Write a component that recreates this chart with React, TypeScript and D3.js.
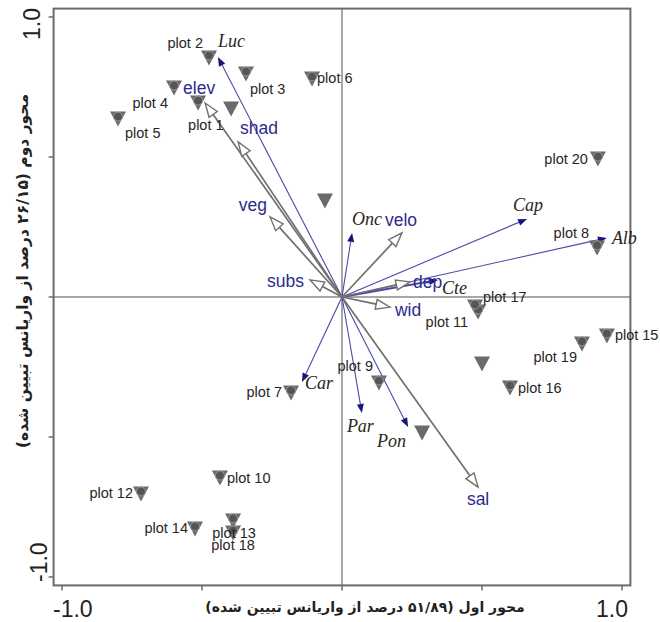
import React, { useEffect, useRef } from 'react';
import * as d3 from 'd3';

// sample plots (CCA site scores)
const plotNames = ['plot 1', 'plot 2', 'plot 3', 'plot 4', 'plot 5', 'plot 6', 'plot 7', 'plot 8', 'plot 9', 'plot 10',
  'plot 11', 'plot 12', 'plot 13', 'plot 14', 'plot 15', 'plot 16', 'plot 17', 'plot 18', 'plot 19', 'plot 20', '', '', '', ''];
const plotX = [-0.514, -0.475, -0.343, -0.6, -0.8, -0.107, -0.182, 0.911, 0.132, -0.436,
  0.486, -0.718, -0.389, -0.525, 0.946, 0.6, 0.475, -0.389, 0.857, 0.914, -0.396, -0.061, 0.5, 0.286];
const plotY = [0.696, 0.857, 0.8, 0.75, 0.639, 0.782, -0.339, 0.179, -0.304, -0.643,
  -0.05, -0.7, -0.796, -0.825, -0.136, -0.321, -0.032, -0.839, -0.164, 0.496, 0.675, 0.346, -0.236, -0.482];

// environmental variables
const envNames = ['elev', 'shad', 'veg', 'subs', 'velo', 'dep', 'wid', 'sal'];
const envX = [-0.489, -0.371, -0.257, -0.114, 0.214, 0.243, 0.171, 0.486];
const envY = [0.693, 0.554, 0.286, 0.061, 0.229, 0.054, -0.036, -0.679];

// species
const sppNames = ['Luc', 'Onc', 'Cap', 'Alb', 'Cte', 'Car', 'Par', 'Pon'];
const sppX = [-0.443, 0.036, 0.661, 0.946, 0.343, -0.143, 0.071, 0.236];
const sppY = [0.857, 0.229, 0.279, 0.211, 0.061, -0.304, -0.414, -0.464];

const ticks = [-1, -0.5, 0, 0.5, 1];
const xTitle = 'محور اول (۵۱/۸۹ درصد از واریانس تبیین شده)';
const yTitle = 'محور دوم (۲۶/۱۵ درصد از واریانس تبیین شده)';

// label placement: [dx, dy, anchor]
const plotLabelPos = {
  'plot 1': [-10, 28, 'start'], 'plot 2': [-6, -9, 'end'], 'plot 3': [4, 21, 'start'], 'plot 4': [-6, 21, 'end'],
  'plot 5': [7, 20, 'start'], 'plot 6': [5, 5, 'start'], 'plot 7': [-9, 5, 'end'], 'plot 8': [-8, -9, 'end'],
  'plot 9': [-6, -11, 'end'], 'plot 10': [7, 6, 'start'], 'plot 11': [-10, 16, 'end'], 'plot 12': [-8, 5, 'end'],
  'plot 13': [1, 18, 'middle'], 'plot 14': [-7, 5, 'end'], 'plot 15': [8, 5, 'start'], 'plot 16': [8, 6, 'start'],
  'plot 17': [8, -4, 'start'], 'plot 18': [0, 18, 'middle'], 'plot 19': [-5, 19, 'end'], 'plot 20': [-10, 6, 'end'],
};
const envLabelPos = {
  elev: [-22, -9, 'start'], shad: [2, -8, 'start'], veg: [-3, -6, 'end'], subs: [-6, 7, 'end'],
  velo: [-17, -7, 'start'], dep: [3, 6, 'start'], wid: [5, 9, 'start'], sal: [0, 18, 'middle'],
};
const sppLabelPos = {
  Luc: [0, -10, 'start'], Onc: [0, -8, 'start'], Cap: [-14, -8, 'start'], Alb: [5, 6, 'start'],
  Cte: [4, 14, 'start'], Car: [3, 7, 'start'], Par: [-15, 19, 'start'], Pon: [-31, 20, 'start'],
};

const W = 660, H = 622;

const App = () => {
  const ref = useRef(null);

  useEffect(() => {
    const svg = d3.select(ref.current);
    svg.selectAll('*').remove();

    const x = d3.scaleLinear().domain([-1, 1]).range([62, 622]);
    const y = d3.scaleLinear().domain([-1, 1]).range([577, 17]);
    const pad = 0.03;
    const x0 = x(-1 - pad), x1 = x(1 + pad), y0 = y(1 + pad), y1 = y(-1 - pad);

    // zero lines
    svg.append('line').attr('x1', x0).attr('x2', x1).attr('y1', y(0)).attr('y2', y(0))
      .attr('stroke', '#8a8a8a').attr('stroke-width', 1.5);
    svg.append('line').attr('x1', x(0)).attr('x2', x(0)).attr('y1', y0).attr('y2', y1)
      .attr('stroke', '#8a8a8a').attr('stroke-width', 1.5);

    // frame
    svg.append('rect').attr('x', x0).attr('y', y0).attr('width', x1 - x0).attr('height', y1 - y0)
      .attr('fill', 'none').attr('stroke', '#6a6a6a').attr('stroke-width', 2);

    // ticks
    svg.selectAll('.yt').data(ticks).enter().append('line')
      .attr('x1', x0 - 5).attr('x2', x0).attr('y1', d => y(d)).attr('y2', d => y(d))
      .attr('stroke', '#6a6a6a').attr('stroke-width', 1.5);
    svg.selectAll('.xt').data(ticks).enter().append('line')
      .attr('y1', y1).attr('y2', y1 + 5).attr('x1', d => x(d)).attr('x2', d => x(d))
      .attr('stroke', '#6a6a6a').attr('stroke-width', 1.5);

    const tickFont = 'Liberation Sans, Arial, sans-serif';
    svg.append('text').text('-1.0').attr('x', x(-1) - 9).attr('y', 617)
      .attr('font-family', tickFont).attr('font-size', 23).attr('fill', '#222');
    svg.append('text').text('1.0').attr('x', x(1) + 6).attr('y', 617).attr('text-anchor', 'end')
      .attr('font-family', tickFont).attr('font-size', 23).attr('fill', '#222');
    svg.append('text').text('1.0').attr('text-anchor', 'end')
      .attr('transform', `translate(40,${y(1) - 9}) rotate(-90)`)
      .attr('font-family', tickFont).attr('font-size', 23).attr('fill', '#222');
    svg.append('text').text('-1.0').attr('text-anchor', 'start')
      .attr('transform', `translate(47,${y(-1) + 5}) rotate(-90)`)
      .attr('font-family', tickFont).attr('font-size', 23).attr('fill', '#222');

    // axis titles
    svg.append('text').text(xTitle).attr('x', 365).attr('y', 612).attr('text-anchor', 'middle')
      .attr('direction', 'rtl').attr('font-family', 'DejaVu Sans, sans-serif').attr('font-weight', 'bold')
      .attr('font-size', 14).attr('fill', '#222');
    svg.append('text').text(yTitle).attr('text-anchor', 'middle')
      .attr('transform', `translate(28,271) rotate(-90)`)
      .attr('direction', 'rtl').attr('font-family', 'DejaVu Sans, sans-serif').attr('font-weight', 'bold')
      .attr('font-size', 15.5).attr('fill', '#222');

    const ox = x(0), oy = y(0);

    // species arrows (thin blue, solid heads)
    sppNames.forEach((n, i) => {
      const tx = x(sppX[i]), ty = y(sppY[i]);
      const a = Math.atan2(ty - oy, tx - ox);
      const L = 9, hw = 3.5;
      const bx = tx - L * Math.cos(a), by = ty - L * Math.sin(a);
      svg.append('line').attr('x1', ox).attr('y1', oy).attr('x2', bx).attr('y2', by)
        .attr('stroke', '#4a4aa8').attr('stroke-width', n === 'Cte' ? 2.2 : 1.1);
      const px = -Math.sin(a), py = Math.cos(a);
      svg.append('polygon')
        .attr('points', [[tx, ty], [bx + hw * px, by + hw * py], [bx - hw * px, by - hw * py]].map(p => p.join(',')).join(' '))
        .attr('fill', '#15157a');
    });

    // environmental arrows (grey, open heads)
    envNames.forEach((n, i) => {
      const tx = x(envX[i]), ty = y(envY[i]);
      const a = Math.atan2(ty - oy, tx - ox);
      const L = 14, hw = 5;
      const bx = tx - L * Math.cos(a), by = ty - L * Math.sin(a);
      svg.append('line').attr('x1', ox).attr('y1', oy).attr('x2', bx).attr('y2', by)
        .attr('stroke', '#707070').attr('stroke-width', 1.7);
      const px = -Math.sin(a), py = Math.cos(a);
      svg.append('polygon')
        .attr('points', [[tx, ty], [bx + hw * px, by + hw * py], [bx - hw * px, by - hw * py]].map(p => p.join(',')).join(' '))
        .attr('fill', '#fff').attr('stroke', '#707070').attr('stroke-width', 1.4);
    });

    // plot markers
    const pts = plotNames.map((n, i) => ({ n, x: x(plotX[i]), y: y(plotY[i]) }));
    const g = svg.append('g');
    g.selectAll('.tri').data(pts).enter().append('path')
      .attr('d', d => `M${d.x - 8},${d.y - 6.5} L${d.x + 8},${d.y - 6.5} L${d.x},${d.y + 8.5} Z`)
      .attr('fill', '#6a6a6a');
    g.selectAll('.dot').data(pts.filter(d => d.n !== '')).enter().append('circle')
      .attr('cx', d => d.x).attr('cy', d => d.y - 1.5).attr('r', 4.5)
      .attr('fill', '#555').attr('stroke', '#9c9c9c').attr('stroke-width', 1);

    g.selectAll('.lab').data(pts.filter(d => d.n !== '')).enter().append('text')
      .text(d => d.n)
      .attr('x', d => d.x + plotLabelPos[d.n][0]).attr('y', d => d.y + plotLabelPos[d.n][1])
      .attr('text-anchor', d => plotLabelPos[d.n][2])
      .attr('font-family', 'Liberation Sans, Arial, sans-serif').attr('font-size', 14.5).attr('fill', '#262626');

    // env labels
    envNames.forEach((n, i) => {
      const p = envLabelPos[n];
      svg.append('text').text(n).attr('x', x(envX[i]) + p[0]).attr('y', y(envY[i]) + p[1])
        .attr('text-anchor', p[2]).attr('font-family', 'Liberation Sans, Arial, sans-serif')
        .attr('font-size', 17.5).attr('fill', '#2c2c8c');
    });

    // species labels
    sppNames.forEach((n, i) => {
      const p = sppLabelPos[n];
      svg.append('text').text(n).attr('x', x(sppX[i]) + p[0]).attr('y', y(sppY[i]) + p[1])
        .attr('text-anchor', p[2]).attr('font-family', 'Liberation Serif, Times New Roman, serif')
        .attr('font-style', 'italic').attr('font-size', 18).attr('fill', '#2a2620');
    });
  }, []);

  return (
    <svg ref={ref} width={W} height={H} style={{ position: 'absolute', left: 0, top: 0, background: '#fff' }}></svg>
  );
};

export default App;
